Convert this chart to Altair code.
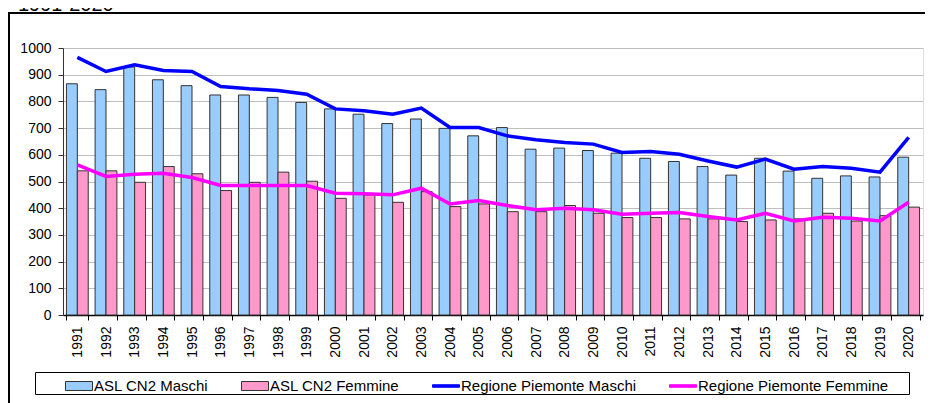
import altair as alt
import pandas as pd

years = [str(y) for y in range(1991, 2021)]
asl_maschi = [866, 844, 929, 881, 859, 824, 824, 815, 796, 772, 752, 717, 734, 699, 671,
              702, 621, 625, 616, 606, 587, 575, 556, 524, 587, 539, 512, 521, 517, 591]
asl_femmine = [540, 540, 497, 556, 529, 466, 497, 535, 501, 437, 450, 422, 462, 406, 416,
               387, 387, 410, 381, 365, 365, 360, 360, 350, 356, 360, 381, 352, 372, 404]
reg_maschi = [965, 912, 937, 916, 912, 856, 847, 841, 827, 772, 765, 752, 775, 702, 702,
              671, 656, 646, 640, 609, 612, 602, 577, 554, 584, 546, 556, 550, 535, 665]
reg_femmine = [562, 519, 527, 531, 515, 485, 485, 485, 485, 456, 454, 450, 475, 416, 429,
               410, 394, 400, 394, 377, 381, 384, 369, 356, 381, 352, 366, 362, 352, 422]
series_names = ["ASL CN2 Maschi", "ASL CN2 Femmine",
                "Regione Piemonte Maschi", "Regione Piemonte Femmine"]
bar_colors = ["#99CCFF", "#FF99CC"]
line_colors = ["#0000FF", "#FF00FF"]
title_text = "1991-2020"


def long(values, name):
    return pd.DataFrame({"anno": years, "serie": name, "valore": values})


bars_df = pd.concat([long(asl_maschi, series_names[0]), long(asl_femmine, series_names[1])])
lines_df = pd.concat([long(reg_maschi, series_names[2]), long(reg_femmine, series_names[3])])

font = "Liberation Sans"
rect_path = "M-1,-0.333H1V0.333H-1Z"
line_path = "M-1,-0.093H1V0.093H-1Z"

is_line = f"(datum.value == '{series_names[2]}' || datum.value == '{series_names[3]}')"
shape_expr = f"{is_line} ? '{line_path}' : '{rect_path}'"
stroke_expr = (f"datum.value == '{series_names[2]}' ? '{line_colors[0]}' : "
               f"(datum.value == '{series_names[3]}' ? '{line_colors[1]}' : '#333333')")

legend = alt.Legend(
    title="\u00a0", titleOrient="right", titlePadding=21, titleFontSize=15,
    orient="none", legendX=-28, legendY=324,
    direction="horizontal", columns=4, columnPadding=2, padding=0,
    strokeColor="black", fillColor="white",
    symbolSize=729, symbolOffset=30, labelOffset=1,
    symbolType=alt.ExprRef(shape_expr),
    symbolStrokeColor=alt.ExprRef(stroke_expr),
    symbolStrokeWidth=1,
    labelFontSize=15, labelFont=font, labelColor="black", labelLimit=400,
)

y_scale = alt.Scale(domain=[0, 1000], nice=False)
y_axis = alt.Axis(title=None, values=list(range(0, 1001, 100)), format="d", grid=True,
                  labelOverlap=False, gridColor="#BFBFBF", tickSize=5, labelPadding=7,
                  labelFontSize=14, labelFont=font, labelColor="black",
                  domainColor="#333333", tickColor="#333333")
x_scale = alt.Scale(paddingInner=0.24, paddingOuter=0.12)
x_axis = alt.Axis(title=None, labelAngle=-90, tickBand="extent", tickSize=5,
                  labelPadding=6, labelFontSize=14, labelFont=font, labelColor="black",
                  domainColor="black", domainWidth=1.5, tickColor="black")

bars = alt.Chart(bars_df).mark_bar(stroke="#333333").encode(
    x=alt.X("anno:N", sort=years, scale=x_scale, axis=x_axis),
    xOffset=alt.XOffset("serie:N", sort=series_names[:2],
                        scale=alt.Scale(domain=series_names[:2], paddingInner=0, paddingOuter=0)),
    y=alt.Y("valore:Q", scale=y_scale, axis=y_axis),
    fill=alt.Fill("serie:N", scale=alt.Scale(domain=series_names, range=bar_colors + line_colors),
                  legend=legend),
)

lines = alt.Chart(lines_df).mark_line(strokeWidth=3.5).encode(
    x=alt.X("anno:N", sort=years, scale=x_scale, axis=x_axis),
    y=alt.Y("valore:Q", scale=y_scale, axis=y_axis),
    stroke=alt.Stroke("serie:N", scale=alt.Scale(domain=series_names[2:], range=line_colors),
                      legend=None),
)

top_rule = alt.Chart().mark_rule(color="black", strokeWidth=2).encode(
    x=alt.value(-55), x2=alt.value(862), y=alt.value(-35))
left_rule = alt.Chart().mark_rule(color="black", strokeWidth=2).encode(
    x=alt.value(-54), y=alt.value(-36), y2=alt.value(355))
title_mark = alt.Chart().mark_text(
    text=title_text, font=font, fontSize=20, color="black",
    align="left", baseline="alphabetic").encode(
    x=alt.value(-45), y=alt.value(-37))

chart = alt.layer(bars, lines, top_rule, left_rule, title_mark).properties(
    width=860, height=267,
    autosize=alt.AutoSizeParams(type="none"),
    padding={"left": 55, "top": 40, "right": 2, "bottom": 88},
).configure_view(stroke=None).configure(background="white")

chart.save("out.html", embed_options={"renderer": "svg", "actions": False})
